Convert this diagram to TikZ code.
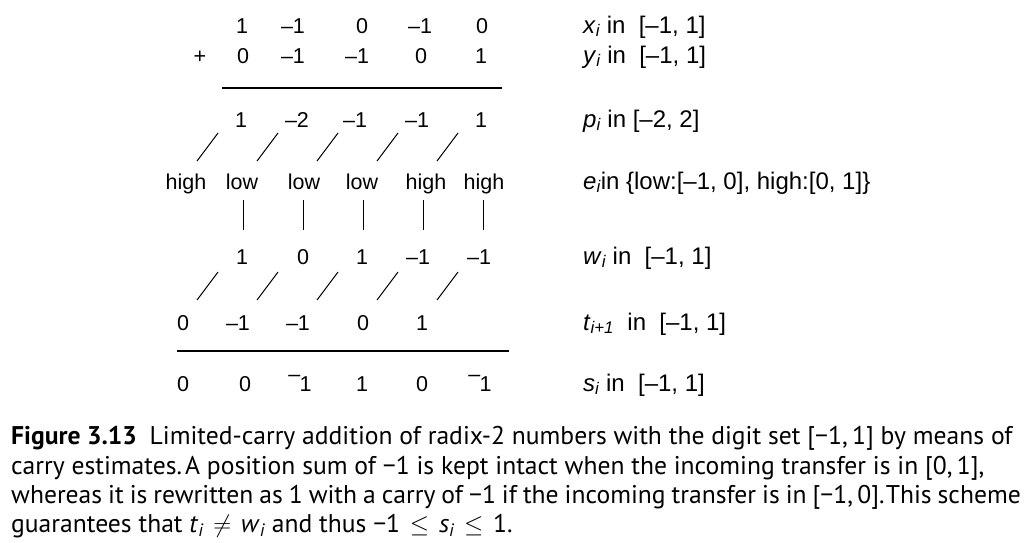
\documentclass[tikz,border=0pt]{standalone}
\usepackage{fontspec}
\setmainfont{Liberation Sans}
\newfontfamily\capfont{PT Sans}
\newcommand\mn{–}
\newcommand\rmn{\raisebox{0.42em}{–}\kern-0.04em}
\newcommand\vsub[1]{\textsubscript{\itshape #1}}
\newcommand\rsp{\hspace{0.38em}}
\begin{document}
\begin{tikzpicture}[x=1pt,y=-1pt,
  dg/.style={font=\fontsize{21.5}{25}\selectfont, inner sep=0pt, anchor=base},
  lb/.style={font=\fontsize{24}{27}\selectfont, inner sep=0pt, anchor=base west},
  captext/.style={font=\capfont\fontsize{25.6}{30}\selectfont, inner sep=0pt, anchor=base west},
  rulebar/.style={line width=1.3pt},
  slashline/.style={line width=1pt}
]
\useasboundingbox (0,0) rectangle (1034,542);

% row x
\node[dg] (x1) at (242,33) {1};
\node[dg] (x2) at (293,33) {\mn1};
\node[dg] (x3) at (362,33) {0};
\node[dg] (x4) at (420,33) {\mn1};
\node[dg] (x5) at (482,33) {0};
% row y
\node[dg] (plus) at (200,63) {+};
\node[dg] (y1) at (243,63) {0};
\node[dg] (y2) at (293,63) {\mn1};
\node[dg] (y3) at (357,63) {\mn1};
\node[dg] (y4) at (421,63) {0};
\node[dg] (y5) at (481,63) {1};
\draw[rulebar] (222,88) -- (502,88);
% row p
\node[dg] (p1) at (241,127) {1};
\node[dg] (p2) at (297,127) {\mn2};
\node[dg] (p3) at (355,127) {\mn1};
\node[dg] (p4) at (417,127) {\mn1};
\node[dg] (p5) at (481,127) {1};
% slashes p -> e
\foreach \xx in {218,278,338,398,458}
  \draw[slashline] (\xx,133) -- (\xx-21,161);
% row e
\node[dg] (e0) at (186,189) {high};
\node[dg] (e1) at (242,189) {low};
\node[dg] (e2) at (304,189) {low};
\node[dg] (e3) at (362,189) {low};
\node[dg] (e4) at (426,189) {high};
\node[dg] (e5) at (484,189) {high};
% bars
\foreach \xx in {243,303,363,423,483}
  \draw[slashline] (\xx,200) -- (\xx,230);
% row w
\node[dg] (w1) at (242,264) {1};
\node[dg] (w2) at (303,264) {0};
\node[dg] (w3) at (362,264) {1};
\node[dg] (w4) at (418,264) {\mn1};
\node[dg] (w5) at (479,264) {\mn1};
% slashes w -> t
\foreach \xx in {218,278,338,398,458}
  \draw[slashline] (\xx,272) -- (\xx-21,300);
% row t
\node[dg] (t0) at (183,330) {0};
\node[dg] (t1) at (238,330) {\mn1};
\node[dg] (t2) at (298,330) {\mn1};
\node[dg] (t3) at (363,330) {0};
\node[dg] (t4) at (422,330) {1};
\draw[rulebar] (177,351) -- (509,351);
% row s
\node[dg] (s0) at (183,391) {0};
\node[dg] (s1) at (245,391) {0};
\node[dg] (s2) at (300,391) {\rmn1};
\node[dg] (s3) at (362,391) {1};
\node[dg] (s4) at (422,391) {0};
\node[dg] (s5) at (480,391) {\rmn1};

% labels
\node[lb] (lx) at (583,33) {\textit{x}\vsub{i} in\ \ [\mn1, 1]};
\node[lb] (ly) at (583,63) {\textit{y}\vsub{i} in\ \ [\mn1, 1]};
\node[lb] (lp) at (583,127) {\textit{p}\vsub{i} in [\mn2, 2]};
\node[lb] (le) at (583,189) {\textit{e}\vsub{i}in \{low:[\mn1, 0], high:[0, 1]\}};
\node[lb] (lw) at (583,264) {\textit{w}\vsub{i} in\ \ [\mn1, 1]};
\node[lb] (lt) at (583,330) {\textit{t}\vsub{i+1}\ \ in\ \ [\mn1, 1]};
\node[lb] (ls) at (583,391) {\textit{s}\vsub{i} in\ \ [\mn1, 1]};

% caption
\node[captext] (c1) at (11,444) {\textbf{Figure 3.13}\enspace Limited-carry addition of radix-2 numbers with the digit set [−1,\,1] by means of};
\node[captext] (c2) at (11,474) {carry estimates.\kern0.12em A position sum of −1 is kept intact when the incoming transfer is in [0,\,1],};
\node[captext] (c3) at (11,503) {\spaceskip=0.235em whereas it is rewritten as 1 with a carry of −1 if the incoming transfer is in [−1,\,0].\kern0.05em This scheme};
\node[captext] (c4) at (11,532) {guarantees that \textit{t}\vsub{i}\rsp$\neq$\rsp\textit{w}\vsub{i} and thus −1\rsp$\leq$\rsp\textit{s}\vsub{i}\rsp$\leq$\rsp1.};
\end{tikzpicture}
\end{document}
